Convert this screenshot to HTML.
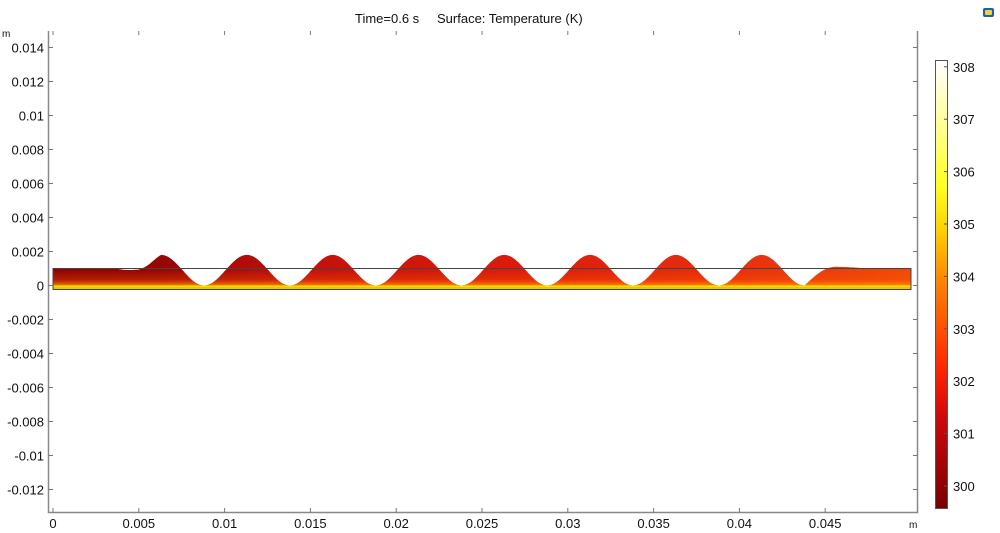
<!DOCTYPE html>
<html><head><meta charset="utf-8"><style>
html,body{margin:0;padding:0;background:#fff;}
svg{display:block;font-family:"Liberation Sans","DejaVu Sans",sans-serif;}
</style></head><body>
<svg id="s" width="1000" height="533" viewBox="0 0 1000 533" xmlns="http://www.w3.org/2000/svg">
<defs>
<linearGradient id="hg" x1="53" y1="0" x2="911" y2="0" gradientUnits="userSpaceOnUse">
<stop offset="0" stop-color="#8e0404"/>
<stop offset="0.12" stop-color="#960604"/>
<stop offset="0.3" stop-color="#c4120a"/>
<stop offset="0.55" stop-color="#dc1c0c"/>
<stop offset="0.8" stop-color="#e8300c"/>
<stop offset="1" stop-color="#f04a08"/>
</linearGradient>
<linearGradient id="vg" x1="0" y1="270" x2="0" y2="286" gradientUnits="userSpaceOnUse">
<stop offset="0" stop-color="#ff5a00" stop-opacity="0"/>
<stop offset="0.6" stop-color="#ff5a00" stop-opacity="0.3"/>
<stop offset="1" stop-color="#ffa000" stop-opacity="0.85"/>
</linearGradient>
<linearGradient id="cb" x1="0" y1="508" x2="0" y2="60" gradientUnits="userSpaceOnUse">
<stop offset="0" stop-color="#7a0000"/>
<stop offset="0.2" stop-color="#d00808"/>
<stop offset="0.3" stop-color="#ff2000"/>
<stop offset="0.5" stop-color="#ff8000"/>
<stop offset="0.62" stop-color="#ffd000"/>
<stop offset="0.72" stop-color="#ffff20"/>
<stop offset="0.85" stop-color="#ffff90"/>
<stop offset="1" stop-color="#ffffff"/>
</linearGradient>
<clipPath id="dom"><path id="dp" d=""/></clipPath>
</defs>
<text x="355" y="23" font-size="13" fill="#111">Time=0.6 s</text>
<text x="437" y="23" font-size="13" fill="#111">Surface: Temperature (K)</text>
<g id="dg" clip-path="url(#dom)">
<rect x="50" y="240" width="870" height="50" fill="url(#hg)"/>
<rect x="50" y="268" width="870" height="18" fill="url(#vg)"/>
</g>
<rect x="53" y="285.5" width="858" height="3.5" fill="#f2c400"/>
<rect x="53" y="285.5" width="858" height="1.2" fill="#ffe800"/>
<line x1="53" y1="268.5" x2="911" y2="268.5" stroke="#333" stroke-width="1"/>
<rect x="53" y="268.5" width="858" height="21" fill="none" stroke="#444" stroke-width="1"/>
<path d="M48.5 31 V512.5 H917.5 V31" fill="none" stroke="#888" stroke-width="1.5"/>
<g id="ax" font-size="13" fill="#111"></g>
<text x="2" y="37" font-size="10" fill="#111">m</text>
<text x="909" y="528" font-size="10" fill="#111">m</text>
<rect x="935.5" y="60.5" width="12" height="448" fill="url(#cb)" stroke="#555" stroke-width="1"/>
<g id="cbl" font-size="13" fill="#111"></g>
<rect x="983" y="8" width="11" height="9" rx="2" fill="#1a5fc0"/>
<rect x="985" y="10" width="7" height="5" rx="1" fill="#f2d23a"/>
</svg>
<script>
(function(){
var X=function(v){return 53+v*17160;},Y=function(v){return 285.5-v*17000;};
var ns="http://www.w3.org/2000/svg";
function tp(x){
 if(x<0.0036)return 0.001;
 if(x<0.0438){var t=0.0009*(1-Math.cos(2*Math.PI*(x-0.0088)/0.005));
  if(x<0.0063){var a=(x-0.0036)/0.0027;var f=0.001-0.00009*Math.sin(Math.PI*Math.min(a*1.6,1));return a<0.45?f:Math.max(f*(1-(a-0.45)/0.55)+t*((a-0.45)/0.55),0);}
  return t;}
 if(x<0.0456){return 0.0011*Math.sin(Math.PI/2*(x-0.0438)/0.0018);}
 if(x<0.048){return 0.001+0.0001*(0.5+0.5*Math.cos(Math.PI*(x-0.0456)/0.0024));}
 return 0.001;}
var d="M"+X(0)+" "+Y(0);
for(var i=0;i<=500;i++){var x=i*0.0001;d+=" L"+X(x).toFixed(2)+" "+Y(tp(x)).toFixed(2);}
d+=" L"+X(0.05)+" "+Y(0)+" Z";
document.getElementById("dp").setAttribute("d",d);
var ax=document.getElementById("ax");
function T(x,y,s,a){var t=document.createElementNS(ns,"text");t.setAttribute("x",x);t.setAttribute("y",y);if(a)t.setAttribute("text-anchor",a);t.textContent=s;ax.appendChild(t);}
function L(x1,y1,x2,y2){var l=document.createElementNS(ns,"line");l.setAttribute("x1",x1);l.setAttribute("y1",y1);l.setAttribute("x2",x2);l.setAttribute("y2",y2);l.setAttribute("stroke","#777");ax.appendChild(l);}
var yl=["0.014","0.012","0.01","0.008","0.006","0.004","0.002","0","-0.002","-0.004","-0.006","-0.008","-0.01","-0.012"];
for(var i=0;i<yl.length;i++){var v=0.014-0.002*i,y=Y(v);T(44,y+5,yl[i],"end");L(48.5,y,53,y);L(913,y,917.5,y);}
var xl=["0","0.005","0.01","0.015","0.02","0.025","0.03","0.035","0.04","0.045"];
for(var i=0;i<xl.length;i++){var x=X(0.005*i);T(x,528,xl[i],"middle");L(x,512.5,x,508);L(x,31,x,35);}
var cb=document.getElementById("cbl");
for(var k=300;k<=308;k++){var y=486-(k-300)*52.4;var t=document.createElementNS(ns,"text");t.setAttribute("x",953);t.setAttribute("y",y+5);t.textContent=k;cb.appendChild(t);
var l=document.createElementNS(ns,"line");l.setAttribute("x1",944);l.setAttribute("x2",947);l.setAttribute("y1",y);l.setAttribute("y2",y);l.setAttribute("stroke","#555");cb.appendChild(l);}
})();
</script>
</body></html>
